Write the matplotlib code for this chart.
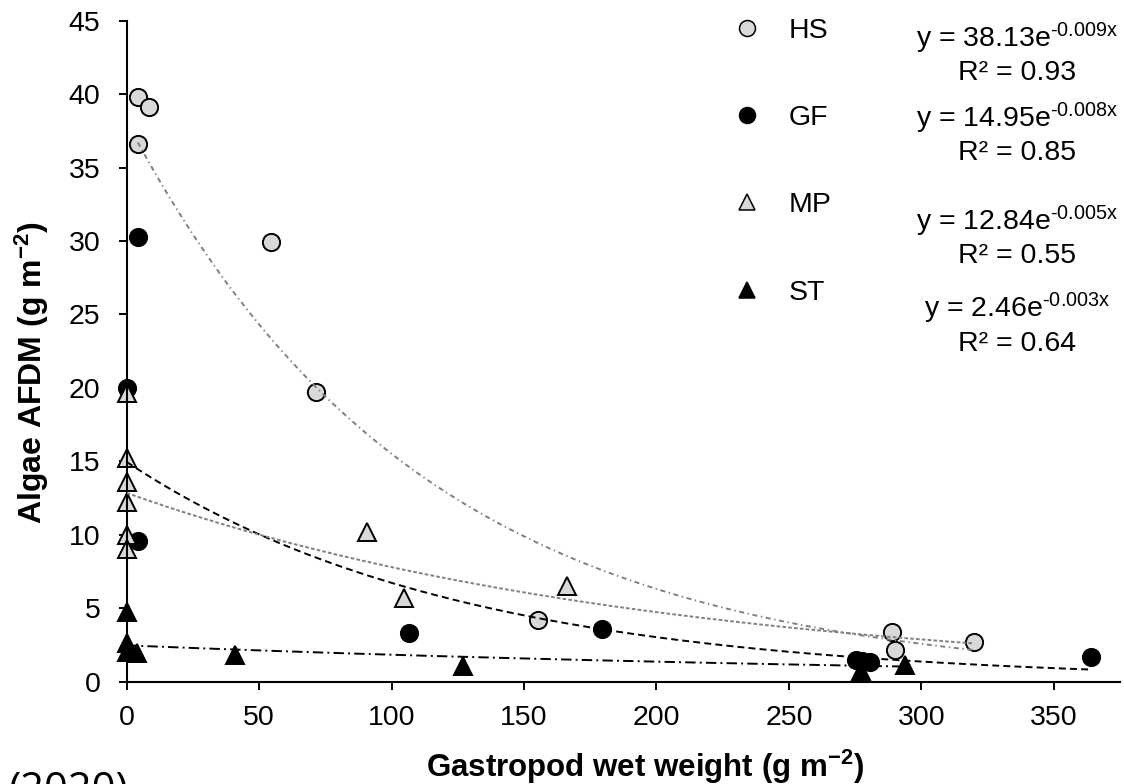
import numpy as np
import matplotlib
matplotlib.use('Agg')
import matplotlib.pyplot as plt
from matplotlib.lines import Line2D

plt.rcParams['font.family'] = ['Liberation Sans', 'DejaVu Sans']
plt.rcParams['mathtext.fontset'] = 'custom'
plt.rcParams['mathtext.rm'] = 'Liberation Sans'
plt.rcParams['mathtext.it'] = 'Liberation Sans:italic'
plt.rcParams['mathtext.bf'] = 'Liberation Sans:bold'
plt.rcParams['lines.scale_dashes'] = False

# gastropod wet weight (x, g m-2) vs algae AFDM (y, g m-2)
hs_x = [4.2, 8.4, 4.2, 54.5, 71.3, 155.2, 288.8, 290.0, 319.7]
hs_y = [39.8, 39.1, 36.6, 29.9, 19.7, 4.2, 3.4, 2.15, 2.7]
gf_x = [4.2, 0.0, 4.4, 106.7, 179.4, 275.5, 277.5, 280.5, 364.0]
gf_y = [30.25, 20.0, 9.6, 3.33, 3.55, 1.45, 1.4, 1.3, 1.65]
mp_x = [0.0, 0.0, 0.0, 0.0, 0.0, 0.0, 90.9, 104.8, 166.2]
mp_y = [19.65, 15.2, 13.6, 12.25, 10.0, 9.0, 10.15, 5.7, 6.5]
st_x = [0.0, 0.0, 0.0, 4.0, 40.9, 127.0, 277.4, 294.0]
st_y = [4.7, 2.6, 2.0, 1.95, 1.8, 1.06, 0.7, 1.15]

# exponential fits y = a*exp(b*x): a, b, R2, x range of the drawn trendline
hs_fit = (38.13, -0.009, 0.93, 4.2, 319.7)
gf_fit = (14.95, -0.008, 0.85, 0.0, 364.0)
mp_fit = (12.84, -0.005, 0.55, 0.0, 320.0)
st_fit = (2.46, -0.003, 0.64, 0.0, 294.0)

names = ['HS', 'GF', 'MP', 'ST']

light = '#d9d9d9'
grey = '#808080'
W, H = 1124, 784

fig = plt.figure(figsize=(W / 100, H / 100), dpi=100)
ax = fig.add_axes([126.7 / W, 1 - 681.5 / H, (1120 - 126.7) / W, (681.5 - 20.7) / H])

series = [
    (gf_x, gf_y, 'o', 'black', 2.0),
    (st_x, st_y, '^', 'black', 2.1),
    (mp_x, mp_y, '^', light, 2.2),
    (hs_x, hs_y, 'o', light, 2.3),
]
for x, y, m, fc, z in series:
    ax.plot(x, y, ls='none', marker=m, ms=12.4, mfc=fc, mec='black', mew=1.4,
            clip_on=False, zorder=z)

# trendlines, drawn over the markers
styles = [
    (hs_fit, grey, (0, (3.6, 2.6, 1.0, 2.6))),
    (gf_fit, 'black', (0, (5.0, 3.0))),
    (mp_fit, grey, (0, (2.6, 1.6))),
    (st_fit, 'black', (0, (7.5, 3.0, 1.4, 3.0))),
]
for (a, b, r2, x0, x1), col, ls in styles:
    xs = np.linspace(x0, x1, 300)
    ax.plot(xs, a * np.exp(b * xs), color=col, ls=ls, lw=1.4, zorder=4)

ax.set_xlim(0, 375)
ax.set_ylim(0, 45)
ax.set_xticks(np.arange(0, 351, 50))
ax.set_yticks(np.arange(0, 46, 5))
for s in ['top', 'right']:
    ax.spines[s].set_visible(False)
for s in ['left', 'bottom']:
    ax.spines[s].set_linewidth(1.5)
ax.tick_params(axis='both', direction='out', length=5.8, width=1.4, labelsize=20.5)
ax.tick_params(axis='x', pad=11)
ax.tick_params(axis='y', pad=13)

fig.text(645 / W, 1 - 777 / H, r'Gastropod wet weight (g m$^{\mathbf{-2}}$)',
         fontsize=22.5, fontweight='bold', ha='center', va='baseline')
fig.text(42 / W, 1 - 373 / H, r'Algae AFDM (g m$^{\mathbf{-2}}$)',
         fontsize=23, fontweight='bold', ha='center', va='baseline',
         rotation=90, rotation_mode='anchor')

# legend
handles = [
    Line2D([], [], ls='none', marker='o', ms=11.5, mfc=light, mec='black', mew=1.1),
    Line2D([], [], ls='none', marker='o', ms=11.5, mfc='black', mec='black', mew=1.1),
    Line2D([], [], ls='none', marker='^', ms=11.5, mfc=light, mec='black', mew=1.1),
    Line2D([], [], ls='none', marker='^', ms=11.5, mfc='black', mec='black', mew=1.1),
]
ax.legend(handles, names, loc='upper left', bbox_to_anchor=(733 / W, 1 - 18 / H),
          bbox_transform=fig.transFigure, frameon=False, fontsize=20.5,
          handlelength=1.0, handletextpad=0.95, labelspacing=2.15,
          borderpad=0, borderaxespad=0)

# fitted equations next to the legend
eq_base = [47, 127, 230, 317]
r2_base = [80, 160, 263, 351]
for (a, b, r2, x0, x1), yb, rb in zip([hs_fit, gf_fit, mp_fit, st_fit], eq_base, r2_base):
    fig.text(1017 / W, 1 - yb / H, r'y = %.2fe$^{\text{%.3fx}}$' % (a, b),
             fontsize=20.5, ha='center', va='baseline')
    fig.text(1017 / W, 1 - rb / H, 'R² = %.2f' % r2,
             fontsize=20.5, ha='center', va='baseline')

fig.text(8 / W, 1 - 802 / H, '(2020)', fontsize=30, family=['Open Sans', 'DejaVu Sans'],
         ha='left', va='baseline')

fig.savefig('out.png', dpi=100)
